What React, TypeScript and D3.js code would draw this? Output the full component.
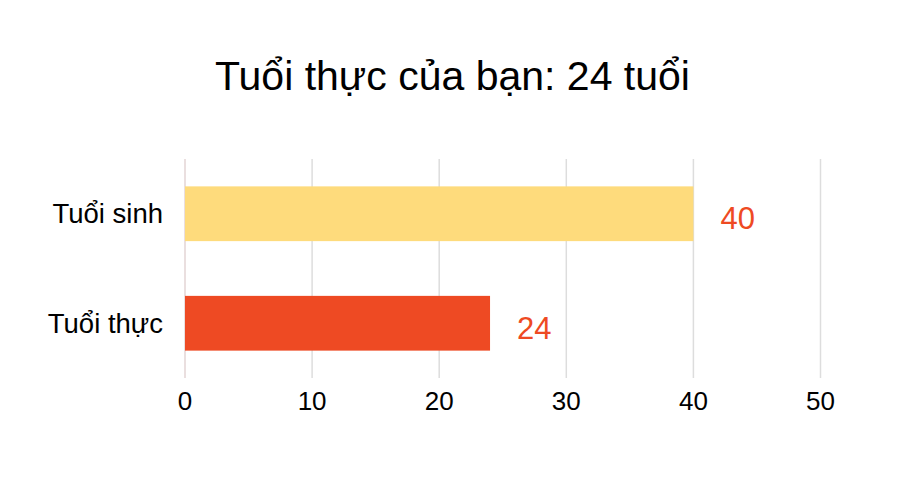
import React from "react";
import * as d3 from "d3";

const categories = ["Tuổi sinh", "Tuổi thực"];
const values = [40, 24];
const barColors = ["#FEDB7C", "#EE4A23"];
const xTicks = [0, 10, 20, 30, 40, 50];
const title = "Tuổi thực của bạn: 24 tuổi";

export default function App() {
  const W = 900, H = 480;
  const x = d3.scaleLinear().domain([0, 50]).range([185, 820.5]);
  const y = d3.scaleBand().domain(categories).range([159, 378]).paddingInner(0.5).paddingOuter(0.25);
  const font = "Liberation Sans, Arial, sans-serif";
  return (
    <svg width={W} height={H} style={{ position: "absolute", left: 0, top: 0, background: "#fff" }} fontFamily={font}>
      <text x={452.5} y={90} textAnchor="middle" fontSize={41} fill="#000">{title}</text>
      {xTicks.map((t) => (
        <line key={"g" + t} x1={x(t)} x2={x(t)} y1={159} y2={378} stroke={t === 0 ? "#e3d5d5" : "#dddddd"} strokeWidth={1.5} />
      ))}
      {categories.map((c, i) => (
        <g key={c}>
          <rect x={x(0)} y={y(c)} width={x(values[i]) - x(0)} height={y.bandwidth()} fill={barColors[i]} />
          <text x={x(values[i]) + 27} y={(y(c) as number) + y.bandwidth() / 2 + 15.5} fontSize={31} fill="#EE4A23">{values[i]}</text>
          <text x={163} y={(y(c) as number) + y.bandwidth() / 2 + 9.5} textAnchor="end" fontSize={27.5} fill="#000">{c}</text>
        </g>
      ))}
      {xTicks.map((t) => (
        <text key={"t" + t} x={x(t)} y={410} textAnchor="middle" fontSize={26} fill="#000">{t}</text>
      ))}
    </svg>
  );
}
